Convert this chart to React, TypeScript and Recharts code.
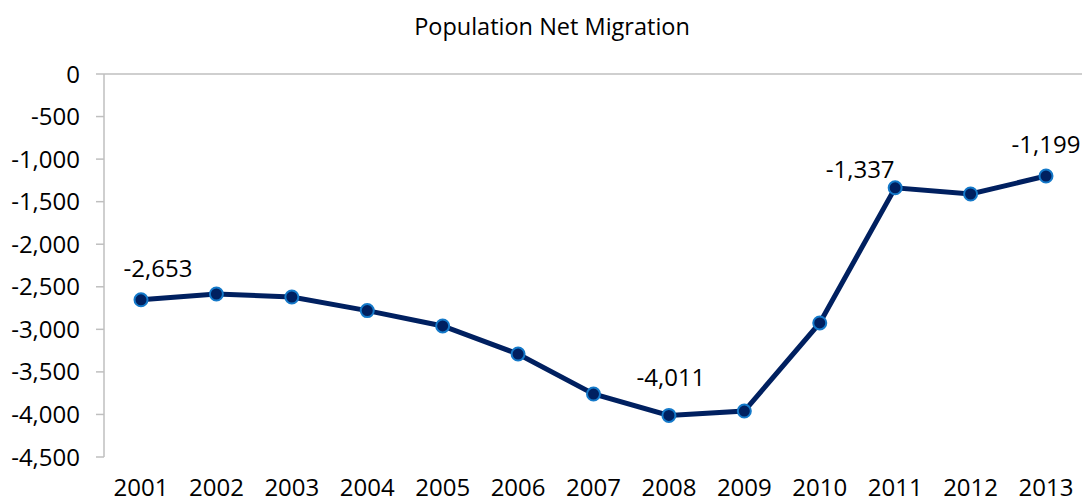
import { LineChart, Line, XAxis, YAxis, ReferenceLine, LabelList } from "recharts";

const YEARS = ["2001", "2002", "2003", "2004", "2005", "2006", "2007", "2008", "2009", "2010", "2011", "2012", "2013"];
const NET_MIGRATION = [-2653, -2585, -2620, -2780, -2960, -3290, -3760, -4011, -3960, -2925, -1337, -1410, -1199];
const Y_TICKS = [0, -500, -1000, -1500, -2000, -2500, -3000, -3500, -4000, -4500];
const LABELLED_YEARS = ["2001", "2008", "2011", "2013"];

// where each value label sits relative to its point
const LABEL_SHIFT: Record<string, { dx: number; dy: number }> = {
  "2001": { dx: 17, dy: -32 },
  "2008": { dx: 2, dy: -39 },
  "2011": { dx: -35, dy: -19 },
  "2013": { dx: 0, dy: -33 },
};

const FONT = "'Open Sans', sans-serif";
const AXIS_GREY = "#bfbfbf";
const NAVY = "#002060";

const fmt = (v: number) => v.toLocaleString("en-US");

const data = YEARS.map((year, i) => ({ year, value: NET_MIGRATION[i] }));

function ValueLabel(props: any) {
  const { x, y, value, index } = props;
  const year = YEARS[index];
  if (!LABELLED_YEARS.includes(year)) return null;
  const s = LABEL_SHIFT[year];
  return (
    <text
      x={x + s.dx}
      y={y + s.dy}
      textAnchor="middle"
      dominantBaseline="central"
      fontFamily={FONT}
      fontSize={24}
      fill="#000"
    >
      {fmt(value)}
    </text>
  );
}

export default function App() {
  return (
    <div style={{ position: "absolute", left: 0, top: 0, width: 1082, height: 504, background: "#fff" }}>
      <div
        style={{
          position: "absolute",
          left: 0,
          top: 10,
          width: 1104,
          textAlign: "center",
          fontFamily: FONT,
          fontSize: 23.5,
          lineHeight: "32px",
          color: "#000",
        }}
      >
        Population Net Migration
      </div>
      <LineChart width={1082} height={504} data={data} margin={{ top: 74, right: 0, left: 0, bottom: 17 }}>
        <XAxis
          dataKey="year"
          axisLine={false}
          tickLine={false}
          tickSize={0}
          tickMargin={22}
          height={30}
          padding={{ left: 37, right: 36 }}
          interval={0}
          tick={{ fontFamily: FONT, fontSize: 24, fill: "#000" }}
        />
        <YAxis
          width={104}
          domain={[-4500, 0]}
          ticks={Y_TICKS}
          interval={0}
          tickFormatter={fmt}
          tickSize={8}
          tickMargin={16}
          axisLine={{ stroke: AXIS_GREY, strokeWidth: 1.5 }}
          tickLine={{ stroke: AXIS_GREY, strokeWidth: 1.5 }}
          tick={{ fontFamily: FONT, fontSize: 24, fill: "#000" }}
        />
        <ReferenceLine y={0} stroke={AXIS_GREY} strokeWidth={1.5} />
        <Line
          type="linear"
          dataKey="value"
          stroke={NAVY}
          strokeWidth={5}
          dot={{ r: 6.5, fill: NAVY, stroke: "#1479c9", strokeWidth: 2 }}
          activeDot={false}
          isAnimationActive={false}
        >
          <LabelList dataKey="value" content={ValueLabel} />
        </Line>
      </LineChart>
    </div>
  );
}
